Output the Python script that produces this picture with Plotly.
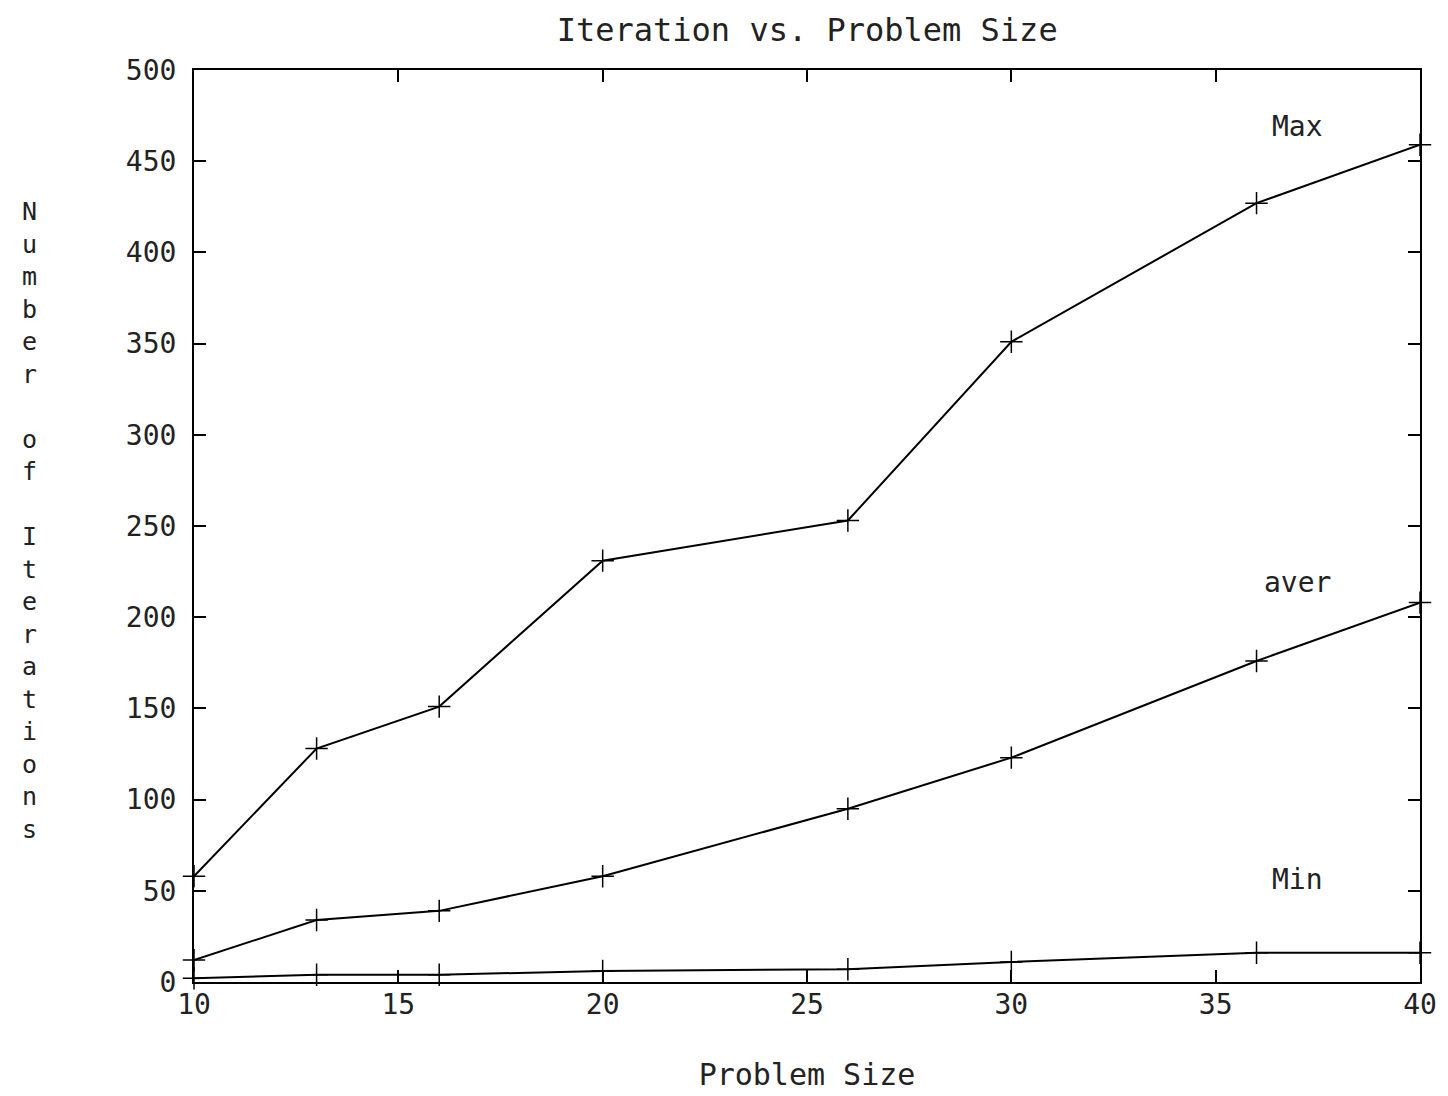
import plotly.graph_objects as go

problem_size = [10, 13, 16, 20, 26, 30, 36, 40]
max_iter = [58, 128, 151, 231, 253, 351, 427, 459]
aver_iter = [12, 34, 39, 58, 95, 123, 176, 208]
min_iter = [2, 4, 4, 6, 7, 11, 16, 16]

series = [("Max", max_iter, 37, 469), ("aver", aver_iter, 37, 219), ("Min", min_iter, 37, 56)]

x_ticks = [10, 15, 20, 25, 30, 35, 40]
y_ticks = [0, 50, 100, 150, 200, 250, 300, 350, 400, 450, 500]

FONT = "DejaVu Sans Mono"
fig = go.Figure()
for name, vals, lx, ly in series:
    fig.add_trace(go.Scatter(
        x=problem_size, y=vals, mode="lines+markers", name=name,
        line=dict(color="black", width=2),
        marker=dict(symbol="cross-thin", size=16, line=dict(color="black", width=1.5)),
        showlegend=False, cliponaxis=False))
    fig.add_annotation(x=lx, y=ly, text=name, showarrow=False,
                       font=dict(family=FONT, size=28, color="#222"))

ylabel = "<br>".join(list("Number of Iterations"))
fig.add_annotation(xref="paper", yref="paper", x=-0.134, y=0.5055, text=ylabel,
                   showarrow=False, font=dict(family=FONT, size=25, color="#222"),
                   xanchor="center", yanchor="middle")

fig.update_layout(
    width=1440, height=1088,
    paper_bgcolor="white", plot_bgcolor="white",
    margin=dict(l=186, r=28, t=62, b=114, autoexpand=False),
    title=dict(text="Iteration vs. Problem Size", x=0.555, xanchor="center",
               y=1 - 22 / 1088, yanchor="middle",
               font=dict(family=FONT, size=32, color="#222")),
    xaxis=dict(range=[10, 40], tickvals=x_ticks, ticktext=[str(v) for v in x_ticks],
               automargin=False, ticklabelstandoff=-4,
               showgrid=False, zeroline=False, showline=True, linecolor="black", linewidth=2,
               mirror="ticks", ticks="inside", ticklen=12, tickwidth=2, tickcolor="black",
               tickfont=dict(family=FONT, size=28, color="#222"),
               title=dict(text="Problem Size", font=dict(family=FONT, size=30, color="#222"), standoff=44)),
    yaxis=dict(range=[0, 500], tickvals=y_ticks, ticktext=[str(v) for v in y_ticks],
               automargin=False, ticklabelstandoff=10,
               showgrid=False, zeroline=False, showline=True, linecolor="black", linewidth=2,
               mirror="ticks", ticks="inside", ticklen=12, tickwidth=2, tickcolor="black",
               tickfont=dict(family=FONT, size=28, color="#222")),
)
fig.write_html("out.html")
